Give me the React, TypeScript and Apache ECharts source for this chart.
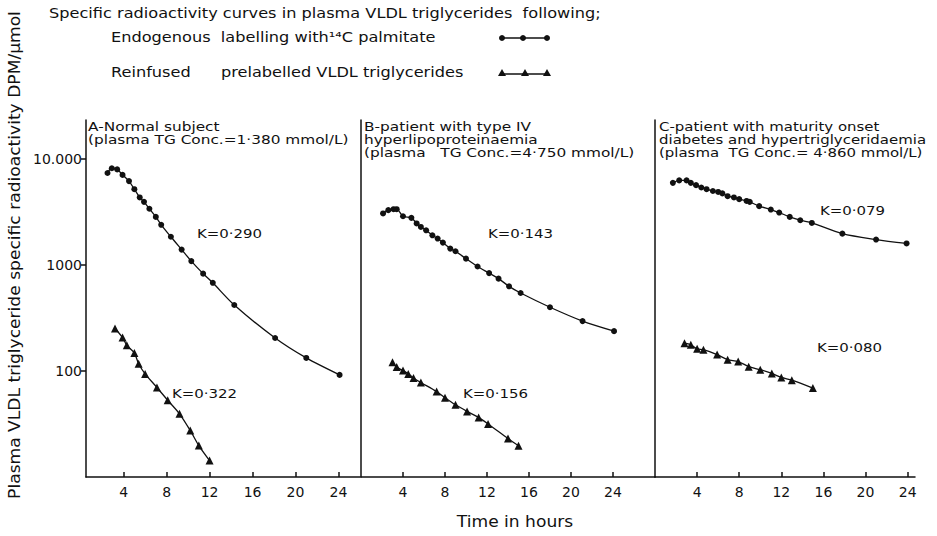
import React, { useEffect, useRef } from 'react';
import * as echarts from 'echarts';

// ---- data (hours, DPM/µmol) ----
const xTickValues = [4, 8, 12, 16, 20, 24];
const yLabelValues = [100, 1000, 10000];
const yLabelTexts = ['100', '1000', '10.000'];

const panelAEndogenous = [
  [2.5, 7400], [2.9, 8200], [3.4, 8000], [3.9, 7100], [4.5, 6200], [5.0, 5200],
  [5.5, 4350], [5.9, 3950], [6.4, 3400], [7.0, 2850], [7.5, 2400], [8.4, 1850],
  [9.4, 1400], [10.3, 1090], [11.4, 830], [12.3, 680], [14.3, 420], [18.1, 205],
  [21.0, 133], [24.1, 92],
];
const panelAReinfused = [
  [3.2, 252], [3.9, 207], [4.3, 175], [5.0, 148], [5.4, 117], [6.0, 94],
  [7.1, 70], [8.1, 53], [9.2, 39.5], [10.2, 27.5], [11.0, 19.8], [12.0, 14.3],
];
const panelBEndogenous = [
  [2.1, 3070], [2.6, 3300], [3.1, 3370], [3.4, 3370], [4.0, 2890], [4.8, 2790],
  [5.3, 2470], [5.7, 2290], [6.2, 2130], [6.8, 1910], [7.3, 1780], [7.8, 1630],
  [8.5, 1430], [9.0, 1350], [10.0, 1150], [11.1, 970], [12.2, 840], [13.1, 745],
  [14.1, 630], [15.2, 545], [18.0, 400], [21.1, 296], [24.1, 238],
];
const panelBReinfused = [
  [3.0, 121], [3.4, 109], [4.0, 101], [4.5, 94], [5.0, 86], [5.7, 78],
  [7.2, 64], [8.0, 56], [9.0, 48], [10.1, 41.6], [11.2, 36.5], [12.1, 31.7],
  [14.0, 23.1], [15.0, 19.7],
];
const panelCEndogenous = [
  [1.7, 5970], [2.3, 6300], [3.0, 6300], [3.4, 5970], [3.9, 5680], [4.4, 5400],
  [4.9, 5200], [5.5, 5000], [6.0, 4900], [6.4, 4750], [6.9, 4470], [7.5, 4350],
  [8.0, 4190], [8.7, 4030], [9.0, 3950], [9.9, 3600], [11.0, 3340], [11.8, 3130],
  [12.8, 2850], [13.8, 2650], [14.9, 2500], [17.8, 1980], [21.0, 1740], [23.9, 1600],
];
const panelCReinfused = [
  [2.8, 183], [3.4, 177], [4.0, 162], [4.6, 159], [5.9, 143], [6.9, 128],
  [7.9, 123], [8.9, 110], [10.0, 103], [11.1, 95], [12.0, 87], [13.0, 82],
  [15.0, 69],
];

const panelTitles = [
  'A-Normal subject\n(plasma TG Conc.=1·380 mmol/L)',
  'B-patient with type IV\nhyperlipoproteinaemia\n(plasma   TG Conc.=4·750 mmol/L)',
  'C-patient with maturity onset\ndiabetes and hypertriglyceridaemia\n(plasma  TG Conc.= 4·860 mmol/L)',
];
const kLabels = ['K=0·290', 'K=0·322', 'K=0·143', 'K=0·156', 'K=0·079', 'K=0·080'];

const titleText = 'Specific radioactivity curves in plasma VLDL triglycerides  following;';
const legendEndoText = 'Endogenous  labelling with¹⁴C palmitate';
const legendReinfText1 = 'Reinfused';
const legendReinfText2 = 'prelabelled VLDL triglycerides';
const yTitle = 'Plasma VLDL triglyceride specific radioactivity DPM/µmol';
const xTitle = 'Time in hours';

const FONT = 'DejaVu Sans';
const INK = '#111';

export default function App() {
  const ref = useRef<HTMLDivElement>(null);
  useEffect(() => {
    const chart = echarts.init(ref.current!, null, { renderer: 'svg' });

    const grids = [
      { left: 86, top: 120, width: 274, height: 357, xMin: 0.5, xMax: 26 },
      { left: 361, top: 120, width: 294, height: 357, xMin: 0, xMax: 28 },
      { left: 655, top: 120, width: 260, height: 357, xMin: 0, xMax: 24.7 },
    ];
    const lineStyle = { color: INK, width: 1.5 };

    const yFormatter = (v: number) => {
      const i = yLabelValues.findIndex((u) => Math.abs(u - v) < u * 1e-3);
      return i >= 0 ? yLabelTexts[i] : '';
    };

    const xAxis = grids.map((g, i) => ({
      type: 'value',
      gridIndex: i,
      min: g.xMin,
      max: g.xMax,
      axisLine: { show: true, onZero: false, lineStyle },
      axisTick: { show: true, inside: true, length: 5, customValues: xTickValues, lineStyle },
      axisLabel: { customValues: xTickValues, color: INK, fontSize: 14, fontFamily: FONT, margin: 8 },
      splitLine: { show: false },
    }));
    const yAxis = grids.map((g, i) => ({
      type: 'log',
      logBase: 10,
      gridIndex: i,
      min: 10,
      max: 23400,
      axisLine: { show: true, onZero: false, lineStyle },
      axisTick: i === 0
        ? { show: true, inside: false, length: 5, customValues: yLabelValues, lineStyle }
        : { show: false },
      axisLabel: i === 0
        ? { show: true, customValues: yLabelValues, formatter: yFormatter, color: INK, fontSize: 14, fontFamily: FONT, margin: 4 }
        : { show: false },
      splitLine: { show: false },
      minorTick: { show: false },
    }));

    const mk = (data: number[][], idx: number, kind: 'circle' | 'triangle') => ({
      type: 'line',
      xAxisIndex: idx,
      yAxisIndex: idx,
      data,
      smooth: 0.3,
      symbol: kind,
      symbolSize: kind === 'circle' ? 6 : 8,
      showSymbol: true,
      itemStyle: { color: INK },
      lineStyle: { color: INK, width: 1.3 },
      silent: true,
    });
    const series = [
      mk(panelAEndogenous, 0, 'circle'),
      mk(panelAReinfused, 0, 'triangle'),
      mk(panelBEndogenous, 1, 'circle'),
      mk(panelBReinfused, 1, 'triangle'),
      mk(panelCEndogenous, 2, 'circle'),
      mk(panelCReinfused, 2, 'triangle'),
    ];

    const txt = (
      text: string, x: number, y: number, fontSize = 14, sx = 1,
      align = 'left', vAlign = 'middle', extra: any = {},
    ) => ({
      type: 'text',
      x,
      y,
      scaleX: sx,
      silent: true,
      ...extra,
      style: { text, fontSize, fontFamily: FONT, fill: INK, align, verticalAlign: vAlign, lineHeight: 13 },
    });

    const tri = (cx: number, cy: number) => ({
      type: 'polygon',
      shape: { points: [[cx, cy - 4], [cx - 4, cy + 3], [cx + 4, cy + 3]] },
      style: { fill: INK },
      silent: true,
    });
    const dot = (cx: number, cy: number) => ({
      type: 'circle',
      shape: { cx, cy, r: 3 },
      style: { fill: INK },
      silent: true,
    });

    const graphic = [
      txt(titleText, 49, 13, 14, 1.155),
      txt(legendEndoText, 111, 37, 14, 1.155),
      txt(legendReinfText1, 111, 72, 14, 1.155),
      txt(legendReinfText2, 221, 72, 14, 1.155),
      { type: 'polyline', shape: { points: [[502, 38], [547, 38]] }, style: { stroke: INK, lineWidth: 1.3 }, silent: true },
      dot(502, 38), dot(523, 38), dot(547, 38),
      { type: 'polyline', shape: { points: [[502, 74], [547, 74]] }, style: { stroke: INK, lineWidth: 1.3 }, silent: true },
      tri(502, 73), tri(525, 73), tri(547, 73),
      txt(panelTitles[0], 88, 120, 13, 1.18, 'left', 'top'),
      txt(panelTitles[1], 364, 120, 13, 1.18, 'left', 'top'),
      txt(panelTitles[2], 659, 120, 13, 1.15, 'left', 'top'),
      txt(kLabels[0], 197, 233, 13, 1.15),
      txt(kLabels[1], 172, 393, 13, 1.15),
      txt(kLabels[2], 488, 233, 13, 1.15),
      txt(kLabels[3], 463, 393, 13, 1.15),
      txt(kLabels[4], 820, 210, 13, 1.15),
      txt(kLabels[5], 817, 347, 13, 1.15),
      txt(xTitle, 515, 522, 15, 1.14, 'center'),
      txt(yTitle, 15, 255, 15, 1.14, 'center', 'middle', { rotation: Math.PI / 2 }),
    ];

    chart.setOption({
      animation: false,
      backgroundColor: '#fff',
      grid: grids.map((g) => ({ left: g.left, top: g.top, width: g.width, height: g.height })),
      xAxis,
      yAxis,
      series,
      graphic,
    });
    return () => chart.dispose();
  }, []);
  return <div ref={ref} style={{ position: 'absolute', left: 0, top: 0, width: 937, height: 536 }} />;
}
